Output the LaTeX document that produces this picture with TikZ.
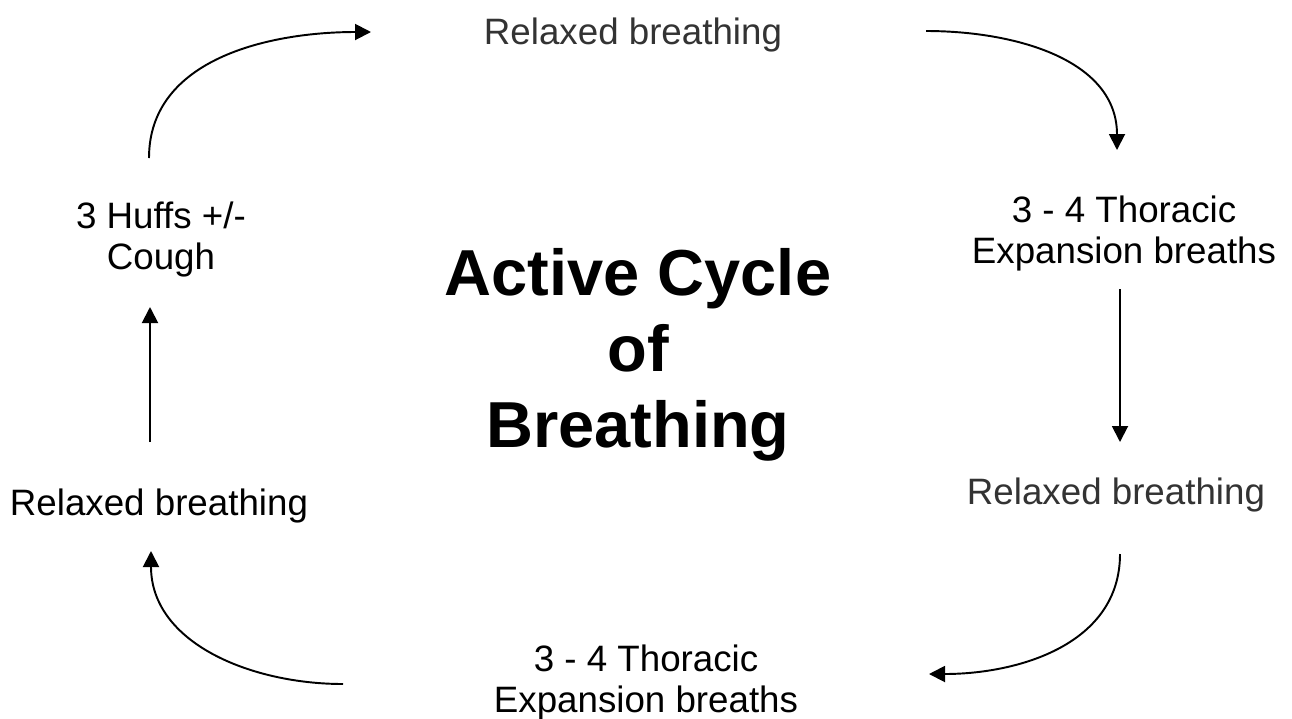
\documentclass[tikz,border=0pt]{standalone}
\usepackage{fontspec}
\setmainfont{Liberation Sans}
\usetikzlibrary{arrows.meta}

\begin{document}
\begin{tikzpicture}[x=0.02cm, y=-0.02cm,
    stagetext/.style={font=\fontsize{20.9}{23}\selectfont, align=center, inner sep=0pt},
    flow/.style={-{Triangle[length=0.32cm, width=0.32cm]}, line width=1.1pt}]
    % --- canvas ---
    \useasboundingbox (0,0) rectangle (1292,718);

    % --- stages of the cycle ---
    \node[stagetext, text=black!80] (relaxtop) at (633,34.5) {Relaxed breathing};
    \node[stagetext] (thoracicright) at (1124,233.5) {3 - 4 Thoracic\\Expansion breaths};
    \node[stagetext, text=black!80] (relaxright) at (1116,495) {Relaxed breathing};
    \node[stagetext] (thoracicbottom) at (646,682.5) {3 - 4 Thoracic\\Expansion breaths};
    \node[stagetext] (relaxleft) at (159,505.5) {Relaxed breathing};
    \node[stagetext] (huffs) at (161,239.5) {3 Huffs +/-\\Cough};

    % --- title in the middle ---
    \node[font=\fontsize{37}{43.2}\selectfont\bfseries, align=center, inner sep=0pt]
        (title) at (638,354.5) {Active Cycle\\of\\Breathing};

    % --- arrow ends ---
    \coordinate (tlstart) at (149,158);
    \coordinate (tlend) at (371,32);
    \coordinate (trstart) at (926,31);
    \coordinate (trend) at (1117,150);
    \coordinate (rstart) at (1120,289);
    \coordinate (rend) at (1120,442);
    \coordinate (brstart) at (1120,554);
    \coordinate (brend) at (929,674);
    \coordinate (blstart) at (343,684);
    \coordinate (blend) at (151,551);
    \coordinate (lstart) at (150,442);
    \coordinate (lend) at (150,307);

    % --- arrows round the cycle ---
    \draw[flow] (tlstart) .. controls +(0,-100) and +(-100,0) .. (tlend);
    \draw[flow] (trstart) .. controls +(90,0) and +(0,-90) .. (trend);
    \draw[flow] (rstart) -- (rend);
    \draw[flow] (brstart) .. controls +(0,90) and +(90,0) .. (brend);
    \draw[flow] (blstart) .. controls +(-92,0) and +(0,92) .. (blend);
    \draw[flow] (lstart) -- (lend);

\end{tikzpicture}
\end{document}
